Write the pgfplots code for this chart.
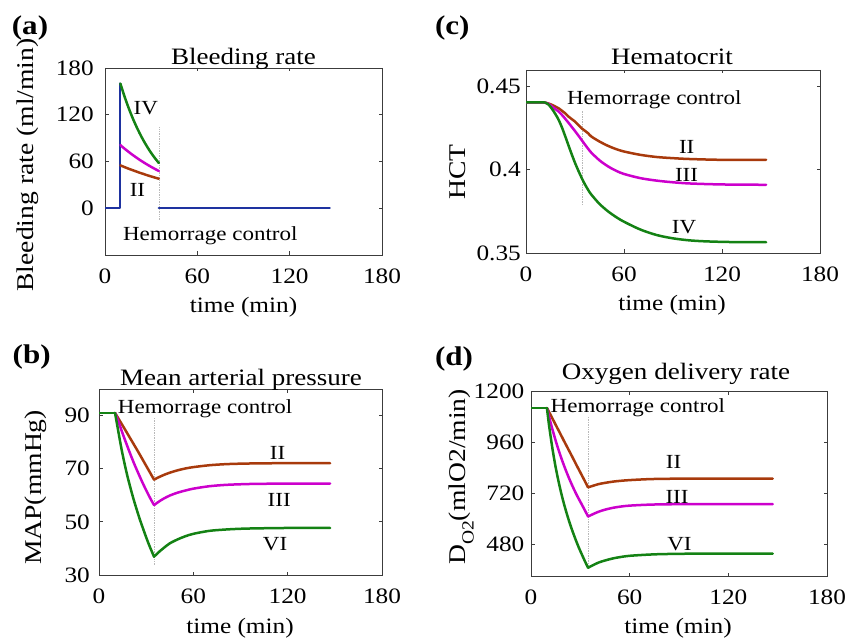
\documentclass[border=0pt]{standalone}
\usepackage{fontspec}
\setmainfont{Liberation Serif}[FakeStretch=1.15]
\usepackage{pgfplots}
\pgfplotsset{compat=1.18}
\definecolor{cgreen}{RGB}{20,130,20}
\definecolor{cmag}{RGB}{204,0,204}
\definecolor{cbrown}{RGB}{168,58,12}
\definecolor{cblue}{RGB}{30,50,160}
\definecolor{axgray}{RGB}{60,60,60}
\newcommand{\fs}[1]{\fontsize{#1}{#1}\selectfont}
\pgfplotsset{
  panel/.style={scale only axis, anchor=south west,
    axis line style={draw=axgray, line width=0.9pt},
    tick style={draw=axgray, line width=0.9pt},
    tick align=inside, major tick length=3.5pt, tick pos=both,
    ticklabel style={font=\fs{22}},
    xticklabel style={anchor=base, yshift=-28.5pt},
    yticklabel style={anchor=east, inner sep=0pt},
    xmin=0, xmax=180, xtick={0,60,120,180}, xticklabels={0,60,120,180},
    clip=true},
}
\tikzset{
  curve/.style={line width=2.5pt, line cap=round, line join=round},
  ctrl/.style={line width=0.7pt, gray!55, densely dotted},
  lab/.style={font=\fs{20}, anchor=base, inner sep=0pt},
}
\begin{document}
\begin{tikzpicture}[x=1pt,y=1pt]
\path[use as bounding box] (0pt,0pt) rectangle (848pt,643pt);

% (a) Bleeding rate
\begin{axis}[panel, at={(105pt,388pt)}, width=277pt, height=187pt,
  ymin=-60, ymax=180, ytick={0,60,120,180}, yticklabels={0,60,120,180},
  yticklabel style={xshift=-11pt}]
\addplot[ctrl] coordinates {(35,-15) (35,105)};
\addplot[curve, cblue] coordinates {(0,0) (9.6,0) (9.6,160)};
\addplot[curve, cblue] coordinates {(35,0) (146,0)};
\addplot[curve, cbrown, smooth] coordinates {(10,55) (12.5,53.0) (15,51.0) (17.5,49.2) (20,47.4) (22.5,45.6) (25,44.0) (27.5,42.3) (30,40.8) (32.5,39.3) (35,37.9)};
\addplot[curve, cmag, smooth] coordinates {(10,81) (12.5,76.8) (15,72.9) (17.5,69.1) (20,65.6) (22.5,62.2) (25,59.0) (27.5,56.0) (30,53.1) (32.5,50.4) (35,47.8)};
\addplot[curve, cgreen, smooth] coordinates {(10,160) (12.5,144.6) (15,130.6) (17.5,118.0) (20,106.6) (22.5,96.3) (25,87.0) (27.5,78.6) (30,71.0) (32.5,64.2) (35,58.0)};
\node[lab] at (axis cs:26.5,120) {IV};
\node[lab] at (axis cs:21.1,15) {II};
\node[lab] at (axis cs:68.4,-41.8) {Hemorrage control};
\end{axis}

% (c) Hematocrit
\begin{axis}[panel, at={(526pt,390pt)}, width=294pt, height=183pt,
  ymin=0.35, ymax=0.46, ytick={0.35,0.4,0.45}, yticklabels={0.35,0.4,0.45},
  yticklabel style={xshift=-5pt}]
\addplot[ctrl] coordinates {(34.6,0.379) (34.6,0.436)};
\addplot[curve, cbrown, smooth] coordinates {(0,0.4405) (10,0.4405) (12,0.4403) (14,0.4398) (16,0.439) (18,0.438) (20,0.437) (22,0.4355) (24,0.434) (26,0.432) (28,0.4305) (30,0.429) (32,0.427) (34,0.425) (36,0.4235) (38,0.422) (40,0.420) (45,0.417) (50,0.4145) (55,0.4125) (60,0.411) (70,0.409) (80,0.4077) (90,0.407) (100,0.4065) (120,0.406) (147,0.406)};
\addplot[curve, cmag, smooth] coordinates {(0,0.4405) (10,0.4405) (12,0.4403) (14,0.4395) (16,0.438) (18,0.4365) (20,0.435) (22,0.433) (24,0.4307) (26,0.4283) (28,0.4258) (30,0.4233) (32,0.4207) (34,0.418) (36,0.4153) (38,0.4127) (40,0.4103) (45,0.4057) (50,0.4022) (55,0.3995) (60,0.3975) (70,0.395) (80,0.3935) (90,0.3925) (100,0.3918) (120,0.3912) (147,0.391)};
\addplot[curve, cgreen, smooth] coordinates {(0,0.4405) (10,0.4405) (12,0.4403) (14,0.439) (16,0.4365) (18,0.4335) (20,0.430) (22,0.4255) (24,0.4202) (26,0.4147) (28,0.4093) (30,0.4042) (32,0.3996) (34,0.3953) (36,0.3914) (38,0.388) (40,0.3851) (45,0.3795) (50,0.3752) (55,0.3717) (60,0.3688) (70,0.3641) (80,0.3608) (90,0.3588) (100,0.3576) (110,0.357) (125,0.3566) (147,0.3565)};
\node[lab] at (axis cs:98.4,0.410) {II};
\node[lab] at (axis cs:98.3,0.393) {III};
\node[lab] at (axis cs:96.8,0.362) {IV};
\node[lab] at (axis cs:78.5,0.439) {Hemorrage control};
\end{axis}

% (b) MAP
\begin{axis}[panel, at={(99pt,68pt)}, width=283pt, height=186pt,
  ymin=30, ymax=100, ytick={30,50,70,90}, yticklabels={30,50,70,90},
  yticklabel style={xshift=-9pt}]
\addplot[ctrl] coordinates {(35,33.8) (35,89)};
\addplot[curve, cbrown] coordinates {(0,91) (10.2,91)};
\addplot[curve, cbrown, smooth] coordinates {(10.2,91) (15,86.3) (20,81.3) (25,76.3) (30,71.1) (35,65.9)};
\addplot[curve, cbrown, smooth] coordinates {(35,65.9) (38,66.8) (41,67.6) (45,68.5) (50,69.4) (55,70.1) (60,70.6) (70,71.3) (80,71.7) (90,71.9) (100,72.0) (120,72.1) (147,72.1)};
\addplot[curve, cmag] coordinates {(0,91) (10.2,91)};
\addplot[curve, cmag, smooth] coordinates {(10.2,91) (12.5,87.5) (15,83.3) (17.5,79.3) (20,75.4) (22.5,71.7) (25,68.3) (27.5,65.0) (30,61.9) (32.5,59.0) (35,56.3)};
\addplot[curve, cmag, smooth] coordinates {(35,56.3) (38,57.6) (41,58.7) (45,59.9) (50,61.0) (55,61.8) (60,62.5) (70,63.4) (80,63.9) (90,64.15) (100,64.3) (120,64.4) (147,64.4)};
\addplot[curve, cgreen] coordinates {(0,91) (10.2,91)};
\addplot[curve, cgreen, smooth] coordinates {(10.2,91) (12,85) (14,78.4) (16,72.6) (18,67.4) (20,62.8) (22,58.5) (24,54.6) (26,50.9) (28,47.5) (30,44.2) (32,41.1) (35,36.9)};
\addplot[curve, cgreen, smooth] coordinates {(35,36.9) (38,38.6) (41,40.1) (45,41.9) (50,43.4) (55,44.6) (60,45.5) (70,46.6) (80,47.1) (90,47.4) (100,47.55) (120,47.7) (147,47.7)};
\node[lab] at (axis cs:113.6,73.4) {II};
\node[lab] at (axis cs:114.6,55.6) {III};
\node[lab] at (axis cs:112,39.4) {VI};
\node[lab] at (axis cs:67.5,90.6) {Hemorrage control};
\end{axis}

% (d) Oxygen delivery
\begin{axis}[panel, at={(531pt,67pt)}, width=296pt, height=185pt,
  ymin=330, ymax=1200, ytick={480,720,960,1200}, yticklabels={480,720,960,1200},
  yticklabel style={xshift=-6.5pt}]
\addplot[ctrl] coordinates {(34.7,363) (34.7,1077)};
\addplot[curve, cbrown] coordinates {(0,1120) (9.7,1120)};
\addplot[curve, cbrown, smooth] coordinates {(9.7,1120) (12.5,1079) (15,1041) (17.5,1004) (20,966) (22.5,929) (25,892) (27.5,854) (30,817) (32.5,780) (34.7,747)};
\addplot[curve, cbrown, smooth] coordinates {(34.7,747) (38,755) (41,762) (45,768) (50,774) (55,778) (60,781) (70,785) (80,787) (100,788) (147,788)};
\addplot[curve, cmag] coordinates {(0,1120) (9.7,1120)};
\addplot[curve, cmag, smooth] coordinates {(9.7,1120) (12,1049) (14,993) (16,941) (18,894) (20,851) (22,811) (24,774) (26,740) (28,708) (30,679) (32,650) (34.7,610)};
\addplot[curve, cmag, smooth] coordinates {(34.7,610) (38,622) (41,632) (45,642) (50,651) (55,657) (60,661) (70,665) (80,667) (100,668) (147,668)};
\addplot[curve, cgreen] coordinates {(0,1120) (9.7,1120)};
\addplot[curve, cgreen, smooth] coordinates {(9.7,1120) (11,1037) (13,931) (15,841) (17,766) (19,700) (21,643) (23,592) (25,546) (27,504) (29,465) (31,430) (33,396) (34.7,369)};
\addplot[curve, cgreen, smooth] coordinates {(34.7,369) (38,382) (41,393) (45,403) (50,413) (55,420) (60,425) (70,430) (80,433) (100,435) (147,435)};
\node[lab] at (axis cs:86.7,834) {II};
\node[lab] at (axis cs:88.8,671) {III};
\node[lab] at (axis cs:90.3,448) {VI};
\node[lab] at (axis cs:65,1101) {Hemorrage control};
\end{axis}

% titles
\node[anchor=base, font=\fs{23.5}] at (243.5pt,578pt) {Bleeding rate};
\node[anchor=base, font=\fs{23.5}] at (672pt,578pt) {Hematocrit};
\node[anchor=base, font=\fs{23.5}] at (241pt,258pt) {Mean arterial pressure};
\node[anchor=base, font=\fs{23.5}] at (676pt,263pt) {Oxygen delivery rate};
% x labels
\node[anchor=base, font=\fs{22}] at (243.5pt,330pt) {time (min)};
\node[anchor=base, font=\fs{22}] at (672pt,332pt) {time (min)};
\node[anchor=base, font=\fs{22}] at (240pt,10pt) {time (min)};
\node[anchor=base, font=\fs{22}] at (678pt,10pt) {time (min)};
% y labels
\node[anchor=base, rotate=90, font=\fs{24}] at (33.3pt,478pt) {Bleeding rate (ml/min)};
\node[anchor=base, rotate=90, font=\fs{24}] at (465.7pt,471pt) {HCT};
\node[anchor=base, rotate=90, font=\fs{24}] at (41.7pt,155.5pt) {MAP(mmHg)};
\node[anchor=base, rotate=90, font=\fs{24}] at (465.7pt,166pt) {D\raisebox{-0.33em}{\fs{17}O2}(mlO2/min)};
% panel labels
\node[font=\bfseries\fs{27}] at (30pt,614.7pt) {(a)};
\node[font=\bfseries\fs{27}] at (452.3pt,614.7pt) {(c)};
\node[font=\bfseries\fs{27}] at (31.7pt,285.5pt) {(b)};
\node[font=\bfseries\fs{27}] at (454pt,284pt) {(d)};
\end{tikzpicture}
\end{document}
